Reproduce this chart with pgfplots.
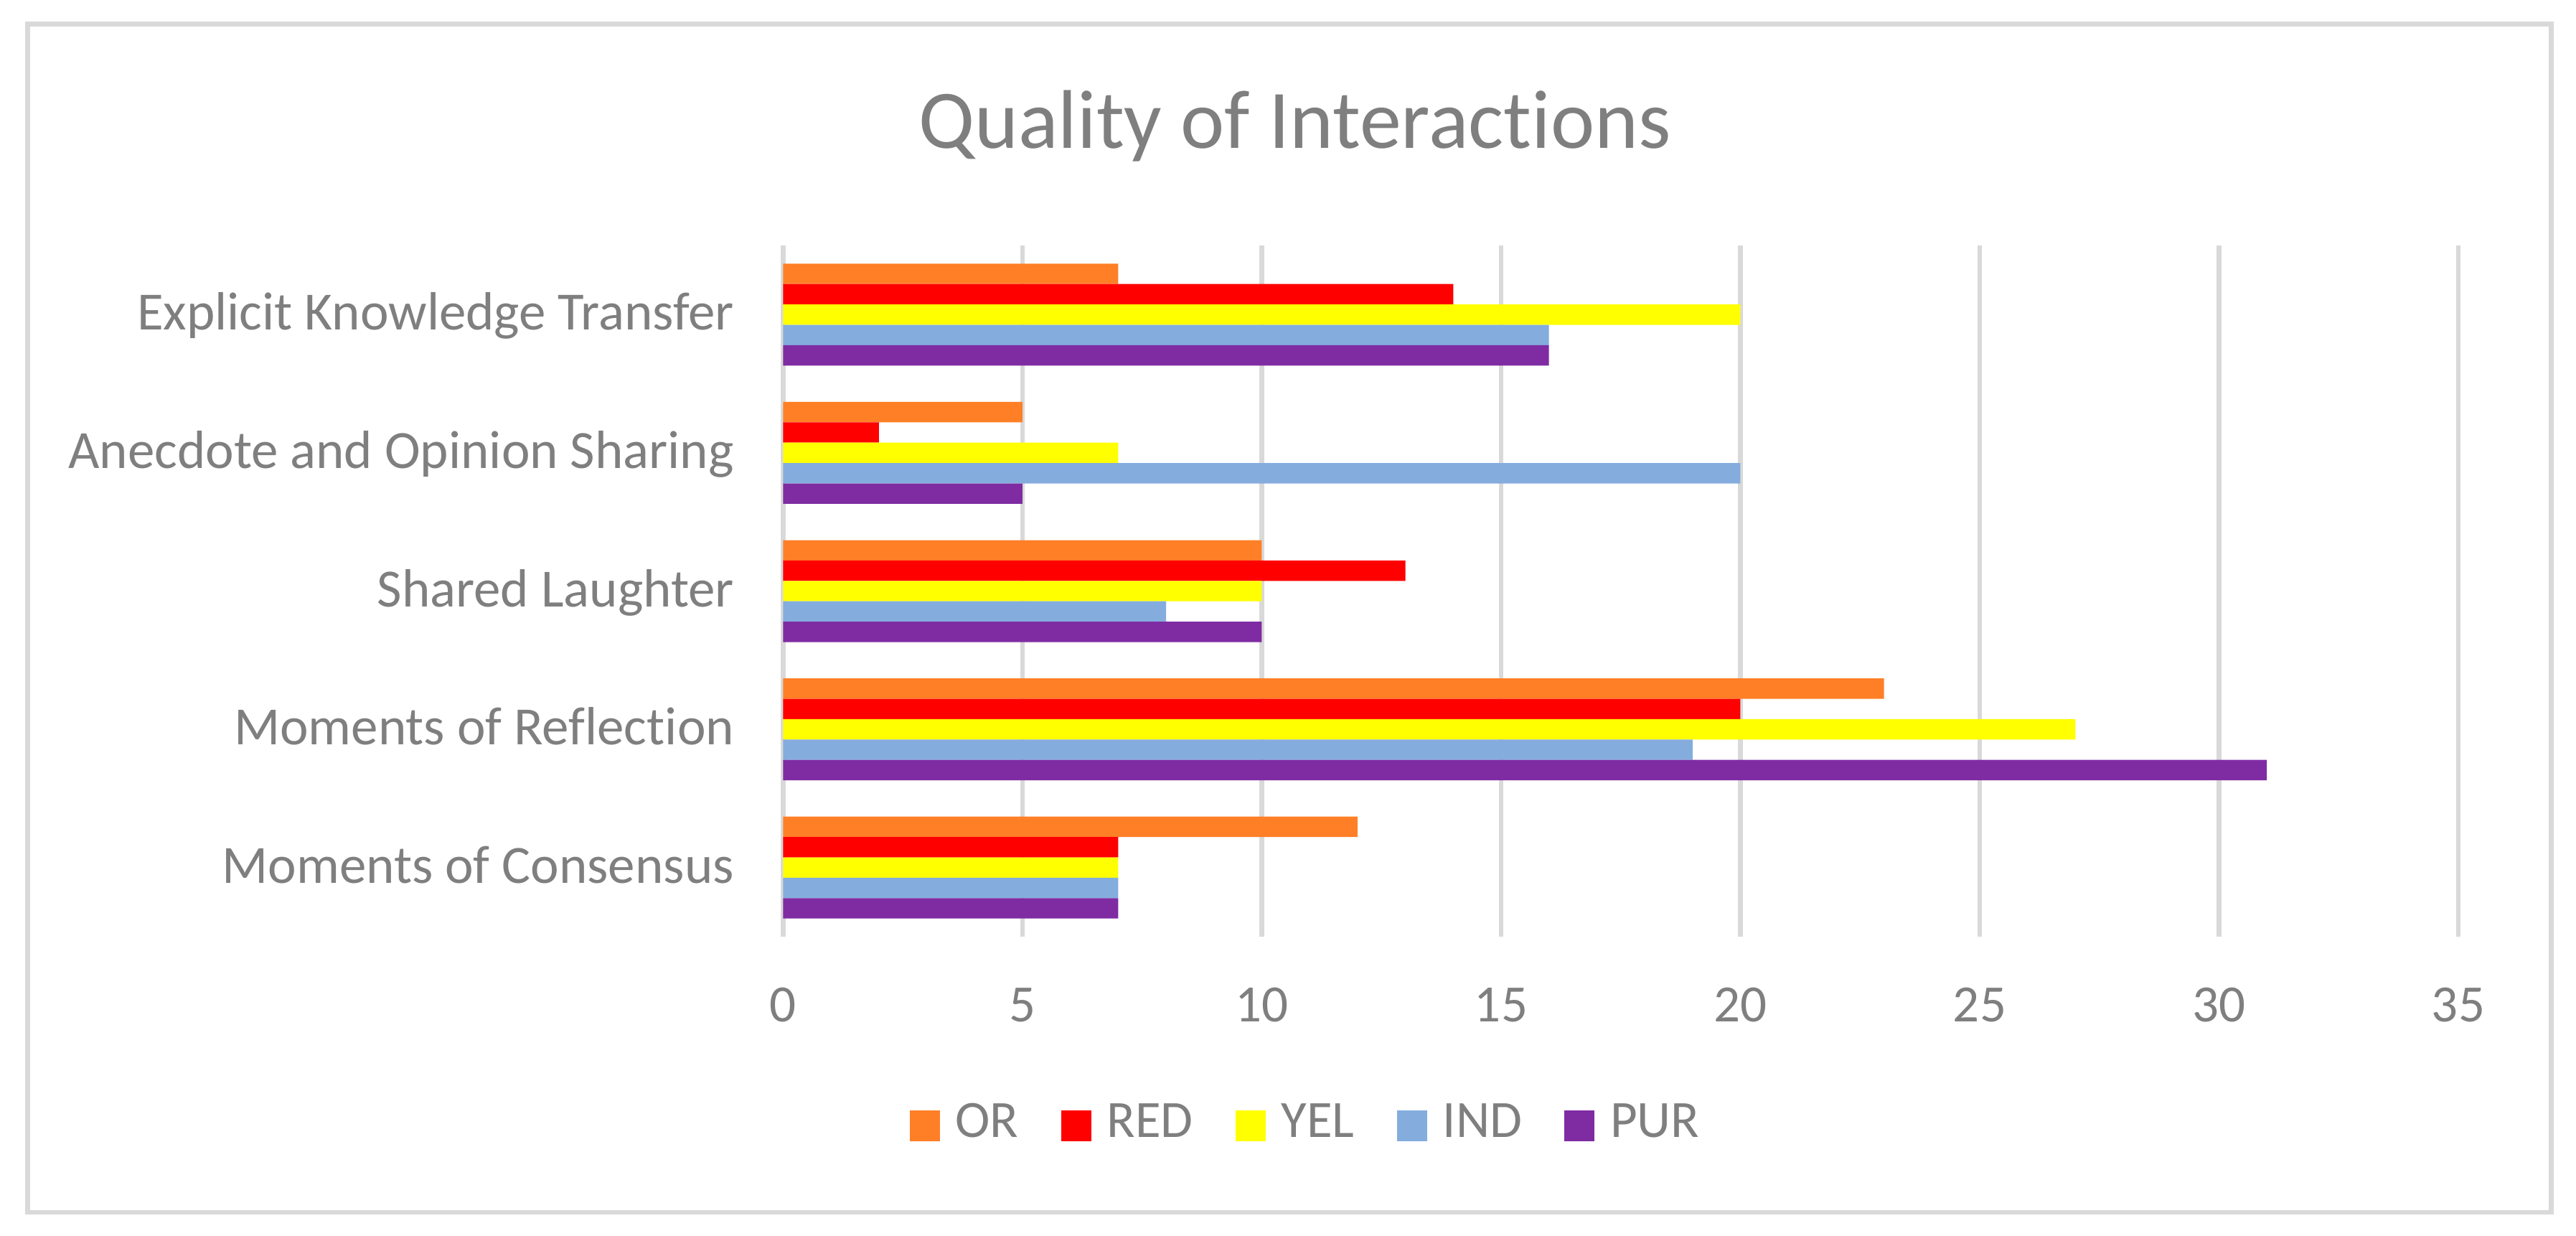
\documentclass[border=0pt]{standalone}
\usepackage{pgfplots}
\pgfplotsset{compat=1.18}
\usepackage{fontspec}
\setmainfont{Carlito}[Ligatures=NoCommon]
\definecolor{cOR}{HTML}{FF7F27}
\definecolor{cRED}{HTML}{FF0000}
\definecolor{cYEL}{HTML}{FFFF00}
\definecolor{cIND}{HTML}{84ADDE}
\definecolor{cPUR}{HTML}{7F2CA3}
\definecolor{txt}{HTML}{7F7F7F}
\definecolor{gridc}{HTML}{D9D9D9}
\begin{document}
\begin{tikzpicture}
\path[use as bounding box] (0,0) rectangle (359pt,172.1pt);
\draw[gridc, line width=0.65pt] (3.83pt,3.22pt) rectangle (355.57pt,168.77pt);
\node[anchor=base, text=txt, inner sep=0pt, font=\fontsize{11.6}{14}\selectfont] at (180.45pt,151.43pt) {Quality of Interactions};
\begin{axis}[
  scale only axis,
  width=233.45pt, height=96.3pt,
  at={(109.15pt,41.6pt)}, anchor=south west,
  xbar, bar width=2.84pt,
  xmin=0, xmax=35, ymin=-0.5, ymax=4.5,
  xtick={0,5,...,35},
  ytick={0,1,2,3,4},
  yticklabels={Moments of Consensus, Moments of Reflection, Shared Laughter, Anecdote and Opinion Sharing, Explicit Knowledge Transfer},
  major tick length=0pt,
  axis line style={draw=none},
  xmajorgrids,
  grid style={color=gridc, line width=0.67pt},
  /pgf/number format/assume math mode=true,
  tick label style={font=\fontsize{7.3}{9}\selectfont, text=txt},
  xticklabel style={anchor=base, inner sep=0pt, yshift=-11.8pt},
  yticklabel style={font=\fontsize{7.5}{9}\selectfont, anchor=base east, inner sep=0pt, xshift=-6.65pt, yshift=-2.15pt},
  legend columns=5,
  legend style={draw=none, fill=none, font=\fontsize{7.3}{9}\selectfont, text=txt,
    at={(0.3112,-0.2736)}, anchor=center,
    /tikz/every odd column/.append style={column sep=2.2pt},
    /tikz/every even column/.append style={column sep=5.9pt},
    nodes={inner sep=0pt}},
  legend image code/.code={\path[#1] (0pt,-2.15pt) rectangle (4.2pt,2.15pt);},
]
\addplot[draw=none, fill=cOR, bar shift=5.68pt] coordinates {(12,0) (23,1) (10,2) (5,3) (7,4)};
\addplot[draw=none, fill=cRED, bar shift=2.84pt] coordinates {(7,0) (20,1) (13,2) (2,3) (14,4)};
\addplot[draw=none, fill=cYEL, bar shift=0pt] coordinates {(7,0) (27,1) (10,2) (7,3) (20,4)};
\addplot[draw=none, fill=cIND, bar shift=-2.84pt] coordinates {(7,0) (19,1) (8,2) (20,3) (16,4)};
\addplot[draw=none, fill=cPUR, bar shift=-5.68pt] coordinates {(7,0) (31,1) (10,2) (5,3) (16,4)};
\legend{OR, RED, YEL, IND, PUR}
\end{axis}
\end{tikzpicture}
\end{document}
